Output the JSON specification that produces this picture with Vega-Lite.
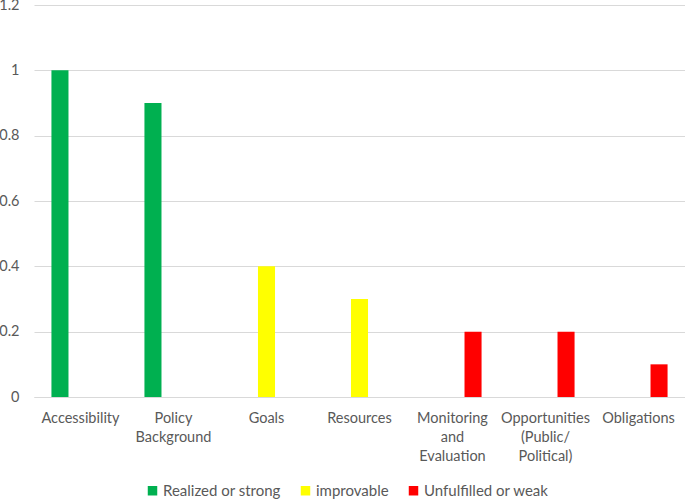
{
  "$schema": "https://vega.github.io/schema/vega-lite/v6.json",
  "width": 651,
  "height": 392,
  "autosize": {"type": "none"},
  "padding": {"left": 34, "top": 5, "right": 0, "bottom": 103},
  "background": "white",
  "config": {
    "view": {"stroke": null},
    "font": "Lato",
    "axis": {"labelFont": "Lato", "labelColor": "#595959", "labelFontSize": 14.5},
    "legend": {"labelFont": "Lato", "labelColor": "#595959", "labelFontSize": 15}
  },
  "data": {
    "values": [
      {"category": "Accessibility", "rating": "Realized or strong", "value": 1.0},
      {"category": "Policy Background", "rating": "Realized or strong", "value": 0.9},
      {"category": "Goals", "rating": "improvable", "value": 0.4},
      {"category": "Resources", "rating": "improvable", "value": 0.3},
      {"category": "Monitoring and Evaluation", "rating": "Unfulfilled or weak", "value": 0.2},
      {"category": "Opportunities (Public/ Political)", "rating": "Unfulfilled or weak", "value": 0.2},
      {"category": "Obligations", "rating": "Unfulfilled or weak", "value": 0.1}
    ]
  },
  "mark": {"type": "bar"},
  "encoding": {
    "x": {
      "field": "category",
      "type": "nominal",
      "sort": null,
      "scale": {"paddingInner": 0.375, "paddingOuter": 0.1875},
      "axis": {
        "title": null,
        "labelAngle": 0,
        "ticks": false,
        "domainColor": "#d9d9d9",
        "domainWidth": 1,
        "labelPadding": 14,
        "labelLineHeight": 19,
        "labelBaseline": "top",
        "labelExpr": "split(datum.value, ' ')"
      }
    },
    "xOffset": {
      "field": "rating",
      "type": "nominal",
      "scale": {"domain": ["Realized or strong", "improvable", "Unfulfilled or weak"], "paddingInner": 0.17, "paddingOuter": 0}
    },
    "y": {
      "field": "value",
      "type": "quantitative",
      "scale": {"domain": [0, 1.2], "nice": false},
      "axis": {
        "title": null,
        "values": [0, 0.2, 0.4, 0.6, 0.8, 1, 1.2],
        "format": ".1~f",
        "domain": false,
        "ticks": false,
        "gridColor": "#d9d9d9",
        "gridWidth": 1.2,
        "labelPadding": 15
      }
    },
    "color": {
      "field": "rating",
      "type": "nominal",
      "scale": {"domain": ["Realized or strong", "improvable", "Unfulfilled or weak"], "range": ["#00b050", "#ffff00", "#ff0000"]},
      "legend": {
        "title": null,
        "orient": "none",
        "direction": "horizontal",
        "legendX": 111,
        "legendY": 478,
        "symbolType": "square",
        "symbolSize": 90,
        "symbolStrokeWidth": 0,
        "columnPadding": 17,
        "labelOffset": 3
      }
    }
  }
}
